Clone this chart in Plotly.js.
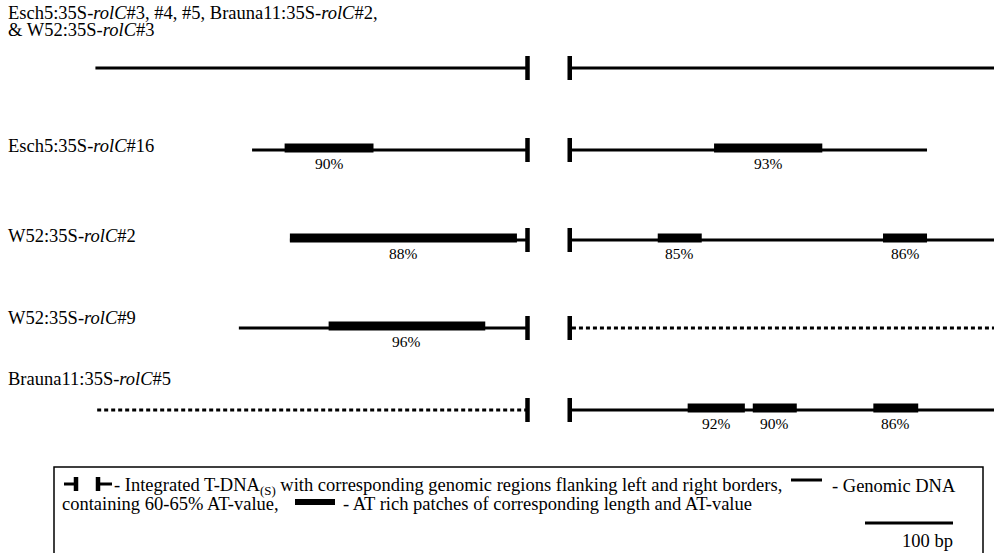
<!DOCTYPE html>
<html><head><meta charset="utf-8">
<script src="https://cdn.plot.ly/plotly-3.0.1.min.js"></script>
<style>html,body{margin:0;padding:0;background:#fff;}#chart{width:994px;height:553px;}</style>
</head><body><div id="chart"></div>
<script>
// ---- data (bp; left flank negative = distance from left border, right flank = distance from right border)
const rowLabels = [
  ["Esch5:35S-<i>rolC</i>#3, #4, #5, Brauna11:35S-<i>rolC</i>#2,", "& W52:35S-<i>rolC</i>#3"],
  ["Esch5:35S-<i>rolC</i>#16"],
  ["W52:35S-<i>rolC</i>#2"],
  ["W52:35S-<i>rolC</i>#9"],
  ["Brauna11:35S-<i>rolC</i>#5"]
];
const leftStart  = [-491, -313, -270, -328, -489];
const leftDotted = [false, false, false, false, true];
const rightEnd   = [490, 406, 490, 490, 490];
const rightDotted= [false, false, false, true, false];
const patchRow   = [1, 1, 2, 2, 2, 3, 4, 4, 4];
const patchSide  = ["L", "R", "L", "R", "R", "L", "R", "R", "R"];
const patchStart = [-276, 164, -270, 100, 356, -226, 134, 208, 345];
const patchEnd   = [-175, 287, -12, 150, 406, -48, 199, 258, 396];
const patchAT    = [90, 93, 88, 85, 86, 96, 92, 90, 86];
const scaleBarBp = 100;

// ---- layout constants
const W = 994, H = 553;
const PXPERBP = 0.88, ORIGIN = 527.5, GAP = 48;
const rowY = [68, 150, 240, 328, 410];
const labelY = [[13, 30], [146], [236], [318], [379]];
const serif = "Liberation Serif";
const TXT = 18.5, PCT = 15.5;
const px = v => v / W;

const traces = [];
const shapes = [];
const annotations = [];
function seg(x0, x1, y, width, dash) {
  traces.push({type: "scatter", mode: "lines", x: [x0, x1], y: [y, y],
    line: {color: "#000", width: width, dash: dash || "solid"}, hoverinfo: "skip", showlegend: false});
}
function bar(x, y) {
  traces.push({type: "scatter", mode: "lines", x: [x, x], y: [y - 12, y + 12],
    line: {color: "#000", width: 4.5}, hoverinfo: "skip", showlegend: false});
}

rowY.forEach((y, i) => {
  seg(leftStart[i], 0, y, 3, leftDotted[i] ? "4px,3px" : "solid");
  seg(GAP + 2.5, GAP + rightEnd[i], y, 3, rightDotted[i] ? "4px,3px" : "solid");
  bar(0, y);
  bar(GAP, y);
  rowLabels[i].forEach((t, k) => {
    annotations.push({xref: "paper", yref: "y", x: px(6), y: labelY[i][k], text: t, showarrow: false,
      xanchor: "left", yanchor: "middle", font: {family: serif, size: TXT, color: "#000"}});
  });
});

patchRow.forEach((r, j) => {
  const off = patchSide[j] === "R" ? GAP : 0;
  const y = rowY[r];
  seg(patchStart[j] + off, patchEnd[j] + off, y - 2, 9);
  annotations.push({xref: "x", yref: "y", x: (patchStart[j] + patchEnd[j]) / 2 + off, y: y + 13,
    text: patchAT[j] + "%", showarrow: false, xanchor: "center", yanchor: "middle",
    font: {family: serif, size: PCT, color: "#000"}});
});

// scale bar (drawn through the bp axis)
const sbEnd = (953 - ORIGIN) / PXPERBP;
seg(sbEnd - scaleBarBp, sbEnd, 523, 3);
annotations.push({xref: "x", yref: "y", x: sbEnd + 2, y: 541, text: scaleBarBp + " bp", showarrow: false,
  xanchor: "right", yanchor: "middle", font: {family: serif, size: TXT, color: "#000"}});

// legend box and symbols
shapes.push({type: "rect", xref: "paper", yref: "y", x0: px(54), x1: px(983), y0: 467, y1: 600,
  line: {color: "#000", width: 1.5}, fillcolor: "rgba(0,0,0,0)"});
function lseg(x0, x1, y0, y1, w) {
  shapes.push({type: "line", xref: "paper", yref: "y", x0: px(x0), x1: px(x1), y0: y0, y1: y1,
    line: {color: "#000", width: w}});
}
lseg(64, 78, 484, 484, 3); lseg(76, 76, 477, 491, 4.5);
lseg(98, 98, 477, 491, 4.5); lseg(98, 112, 484, 484, 3);
lseg(791, 822, 480, 480, 3);
lseg(295, 335, 502, 502, 6);
function ltext(x, y, t) {
  annotations.push({xref: "paper", yref: "y", x: px(x), y: y, text: t, showarrow: false,
    xanchor: "left", yanchor: "middle", font: {family: serif, size: TXT, color: "#000"}});
}
ltext(112, 486, "- Integrated T-DNA<sub>(S)</sub> with corresponding genomic regions flanking left and right borders,");
ltext(830, 486, "- Genomic DNA");
ltext(60, 504, "containing 60-65% AT-value,");
ltext(341, 504, "- AT rich patches of corresponding length and AT-value");

const layout = {
  width: W, height: H, margin: {l: 0, r: 0, t: 0, b: 0},
  paper_bgcolor: "#fff", plot_bgcolor: "#fff",
  xaxis: {range: [-ORIGIN / PXPERBP, (W - ORIGIN) / PXPERBP], visible: false, fixedrange: true},
  yaxis: {range: [H, 0], visible: false, fixedrange: true},
  showlegend: false, shapes: shapes, annotations: annotations
};
Plotly.newPlot("chart", traces, layout, {staticPlot: true, displayModeBar: false});
</script></body></html>
